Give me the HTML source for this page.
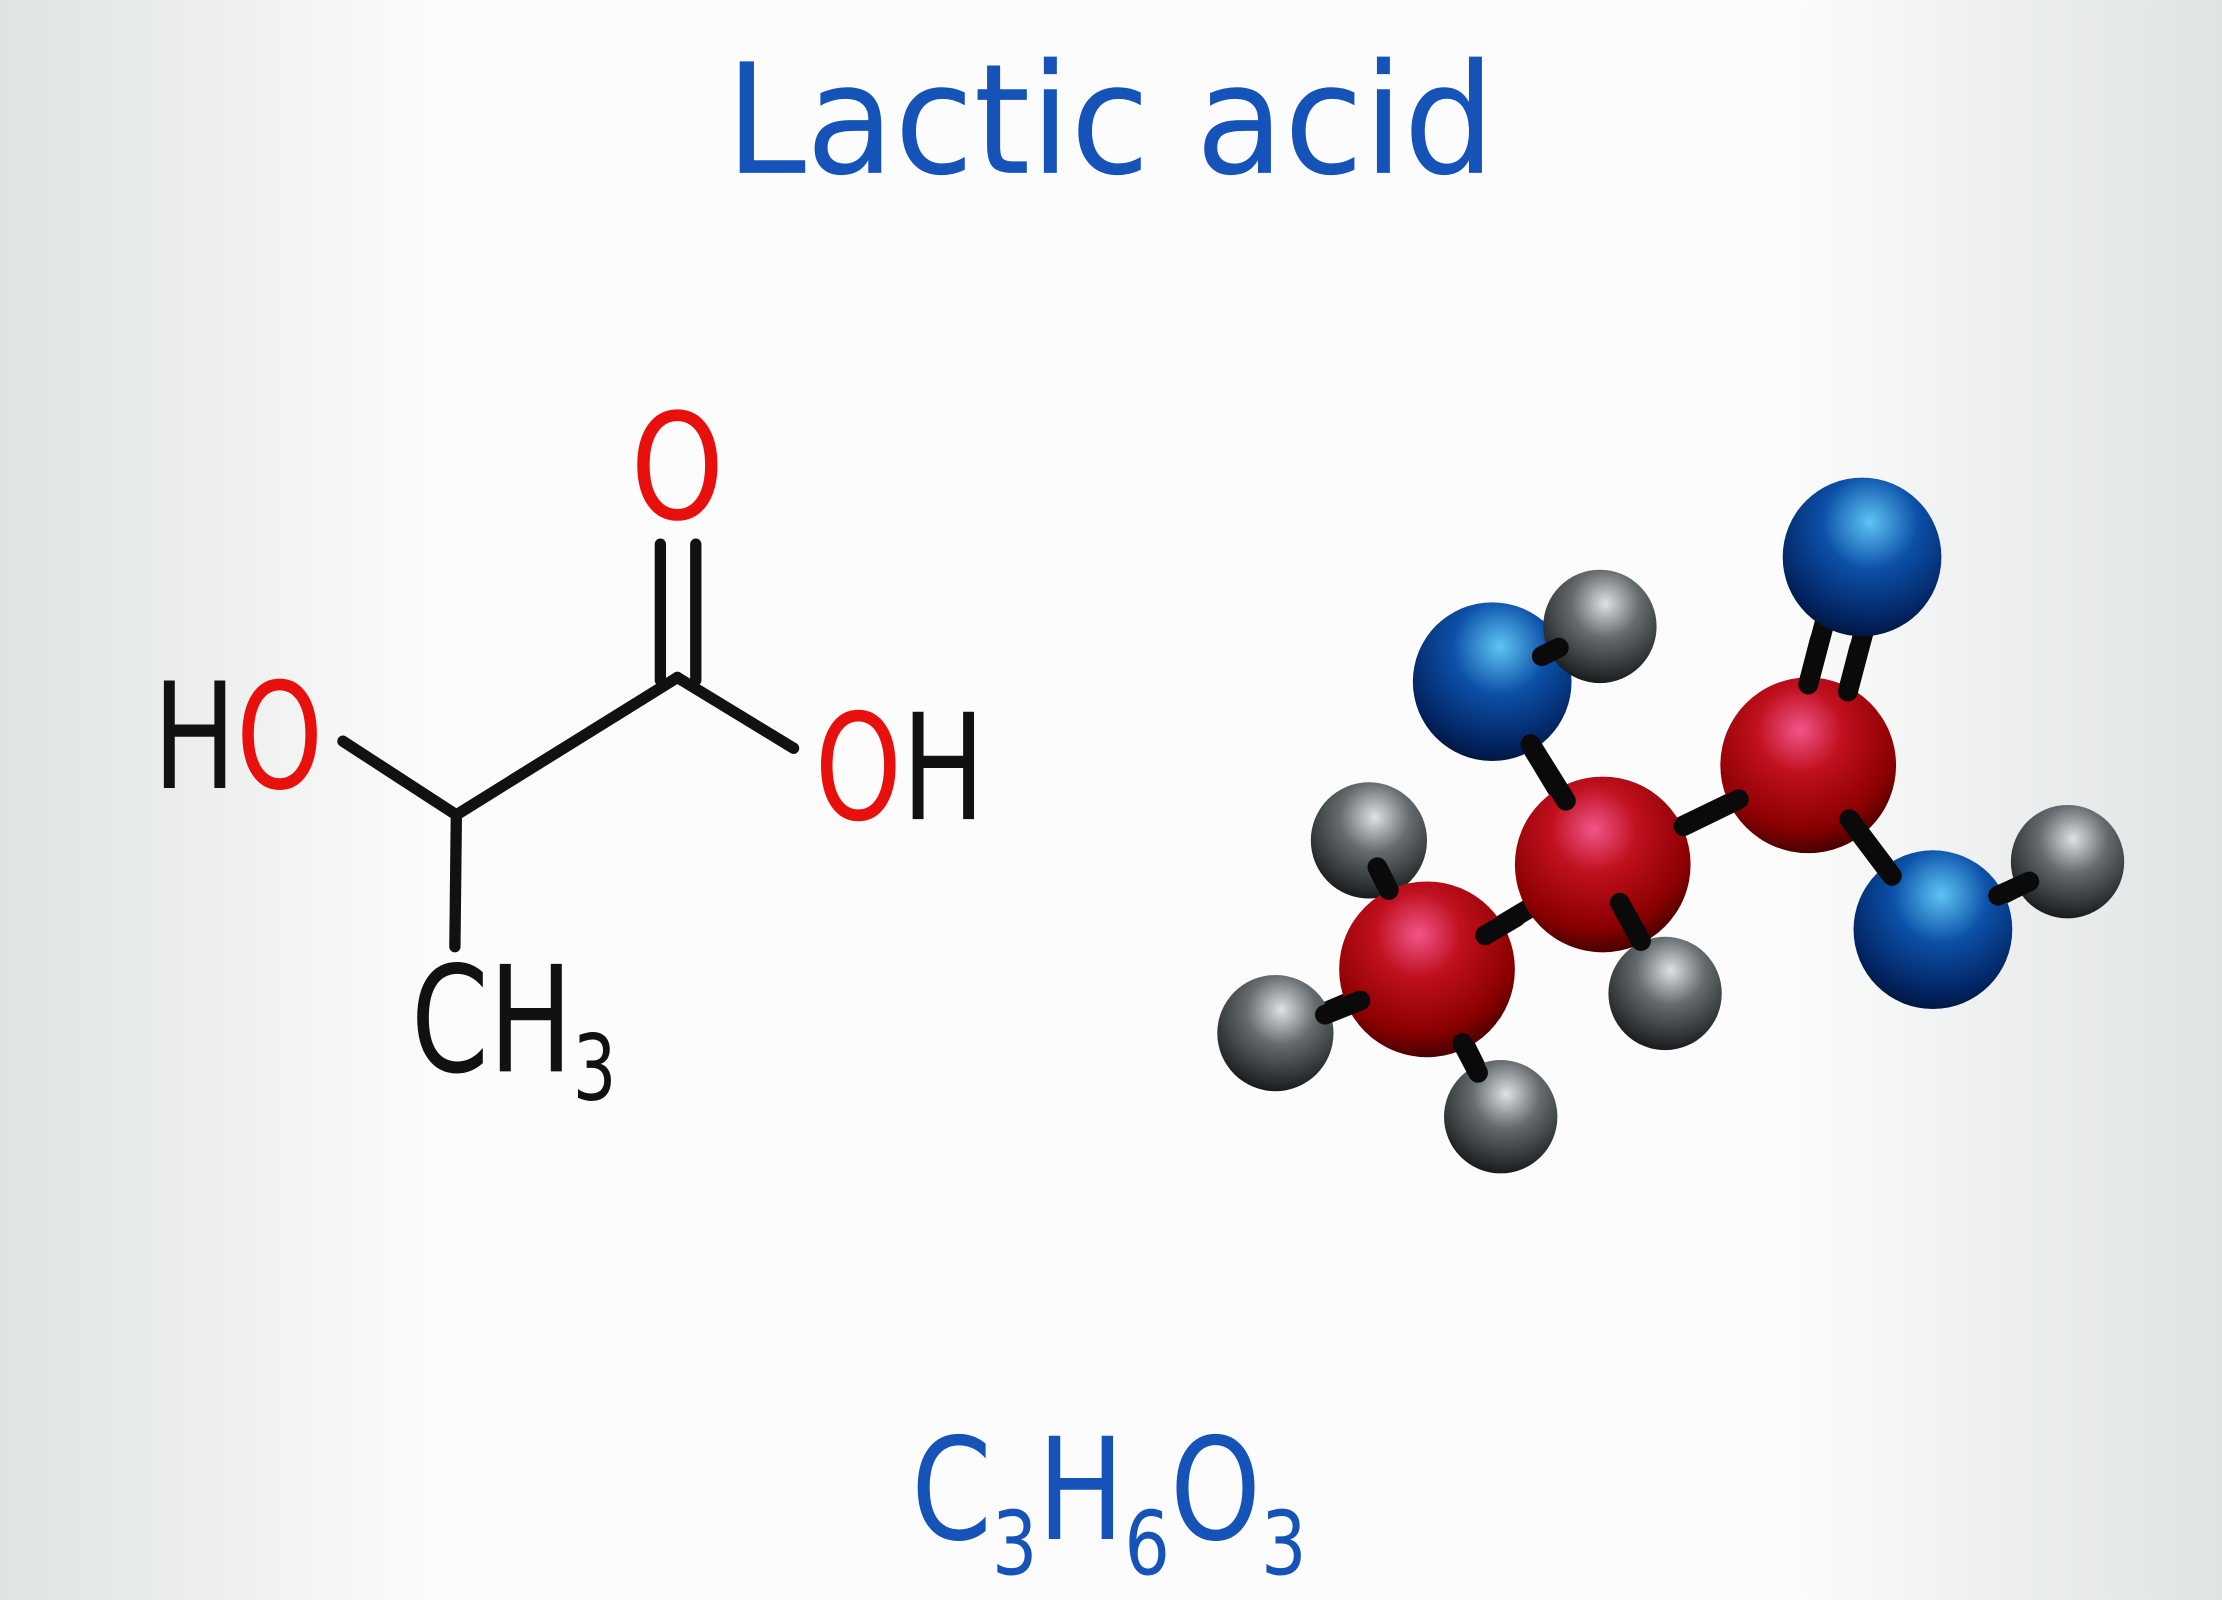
<!DOCTYPE html>
<html><head><meta charset="utf-8">
<style>
html,body{margin:0;padding:0;width:2222px;height:1600px;overflow:hidden;}
svg{display:block;}
text{font-family:"DejaVu Sans","Liberation Sans",sans-serif;}
</style></head>
<body>
<svg width="2222" height="1600" viewBox="0 0 1568 1129" xmlns="http://www.w3.org/2000/svg">
<defs>
<linearGradient id="bg" x1="0" x2="1" y1="0" y2="0">
<stop offset="0" stop-color="#dfe3e3"/><stop offset="0.2" stop-color="#fcfcfc"/>
<stop offset="0.8" stop-color="#fcfcfc"/><stop offset="1" stop-color="#dfe3e3"/>
</linearGradient>
<radialGradient id="red" cx="0.45" cy="0.3" r="0.7">
<stop offset="0" stop-color="#f0558a"/><stop offset="0.35" stop-color="#c0101e"/><stop offset="0.8" stop-color="#8a0000"/><stop offset="1" stop-color="#4a0000"/>
</radialGradient>
<radialGradient id="blue" cx="0.55" cy="0.28" r="0.75">
<stop offset="0" stop-color="#5ec4f4"/><stop offset="0.4" stop-color="#0c50a8"/><stop offset="0.85" stop-color="#02225e"/><stop offset="1" stop-color="#001436"/>
</radialGradient>
<radialGradient id="gray" cx="0.55" cy="0.3" r="0.75">
<stop offset="0" stop-color="#dde3e3"/><stop offset="0.4" stop-color="#656b6e"/><stop offset="0.85" stop-color="#25292b"/><stop offset="1" stop-color="#111"/>
</radialGradient>
</defs>
<rect width="1568" height="1129" fill="url(#bg)"/>

<text x="512" y="122" font-size="108" fill="#1553b8" textLength="543" lengthAdjust="spacingAndGlyphs">Lactic acid</text>

<g stroke="#111" stroke-width="8" stroke-linecap="round" fill="none">
<line x1="242" y1="523" x2="322" y2="575"/>
<line x1="322" y1="575" x2="478" y2="478"/>
<line x1="478" y1="478" x2="560" y2="528"/>
<line x1="466" y1="384" x2="466" y2="480"/>
<line x1="491" y1="384" x2="491" y2="480"/>
<line x1="322" y1="578" x2="321" y2="668"/>
</g>
<text x="108" y="556" font-size="104" fill="#111" textLength="120" lengthAdjust="spacingAndGlyphs">H<tspan fill="#e8100c">O</tspan></text>
<text x="445" y="366" font-size="104" fill="#e8100c" textLength="66" lengthAdjust="spacingAndGlyphs">O</text>
<text x="575" y="578" font-size="104" fill="#e8100c" textLength="120" lengthAdjust="spacingAndGlyphs">O<tspan fill="#111">H</tspan></text>
<text x="290" y="756" font-size="104" fill="#111" textLength="145" lengthAdjust="spacingAndGlyphs">CH<tspan font-size="64" dy="20">3</tspan></text>

<g stroke="#0a0a0a" stroke-width="14" stroke-linecap="round">
<line x1="1007" y1="684" x2="1131" y2="610"/>
<line x1="1131" y1="610" x2="1276" y2="540"/>
<line x1="1131" y1="610" x2="1053" y2="481"/>
<line x1="1053" y1="481" x2="1129" y2="442"/>
<line x1="1007" y1="684" x2="966" y2="593"/>
<line x1="1007" y1="684" x2="900" y2="729"/>
<line x1="1007" y1="684" x2="1059" y2="788"/>
<line x1="1131" y1="610" x2="1175" y2="701"/>
<line x1="1276" y1="540" x2="1364" y2="656"/>
<line x1="1364" y1="656" x2="1459" y2="608"/>
<line x1="1276" y1="483" x2="1298" y2="400"/>
<line x1="1304" y1="488" x2="1326" y2="405"/>
</g>
<circle cx="1314" cy="393" r="56" fill="url(#blue)"/>
<circle cx="1053" cy="481" r="56" fill="url(#blue)"/>
<circle cx="1129" cy="442" r="40" fill="url(#gray)"/>
<circle cx="966" cy="593" r="41" fill="url(#gray)"/>
<circle cx="1276" cy="540" r="62" fill="url(#red)"/>
<circle cx="1131" cy="610" r="62" fill="url(#red)"/>
<circle cx="1459" cy="608" r="40" fill="url(#gray)"/>
<circle cx="1364" cy="656" r="56" fill="url(#blue)"/>
<circle cx="1175" cy="701" r="40" fill="url(#gray)"/>
<circle cx="1007" cy="684" r="62" fill="url(#red)"/>
<circle cx="900" cy="729" r="41" fill="url(#gray)"/>
<circle cx="1059" cy="788" r="40" fill="url(#gray)"/>
<g stroke="#0a0a0a" stroke-width="14" stroke-linecap="round">
<line x1="1105" y1="565" x2="1080" y2="525"/>
<line x1="1088" y1="463" x2="1100" y2="457"/>
<line x1="1048" y1="660" x2="1070" y2="647"/>
<line x1="1188" y1="583" x2="1227" y2="564"/>
<line x1="1143" y1="637" x2="1158" y2="664"/>
<line x1="960" y1="706" x2="935" y2="716"/>
<line x1="1032" y1="736" x2="1043" y2="757"/>
<line x1="980" y1="628" x2="972" y2="612"/>
<line x1="1305" y1="578" x2="1335" y2="618"/>
<line x1="1410" y1="632" x2="1432" y2="622"/>
<line x1="1276" y1="483" x2="1284" y2="452"/>
<line x1="1304" y1="488" x2="1312" y2="457"/>
</g>

<text x="643" y="1086" font-size="100" fill="#1553b8" textLength="279" lengthAdjust="spacingAndGlyphs">C<tspan font-size="62" dy="25">3</tspan><tspan dy="-25">H</tspan><tspan font-size="62" dy="25">6</tspan><tspan dy="-25">O</tspan><tspan font-size="62" dy="25">3</tspan></text>
</svg>
</body></html>
